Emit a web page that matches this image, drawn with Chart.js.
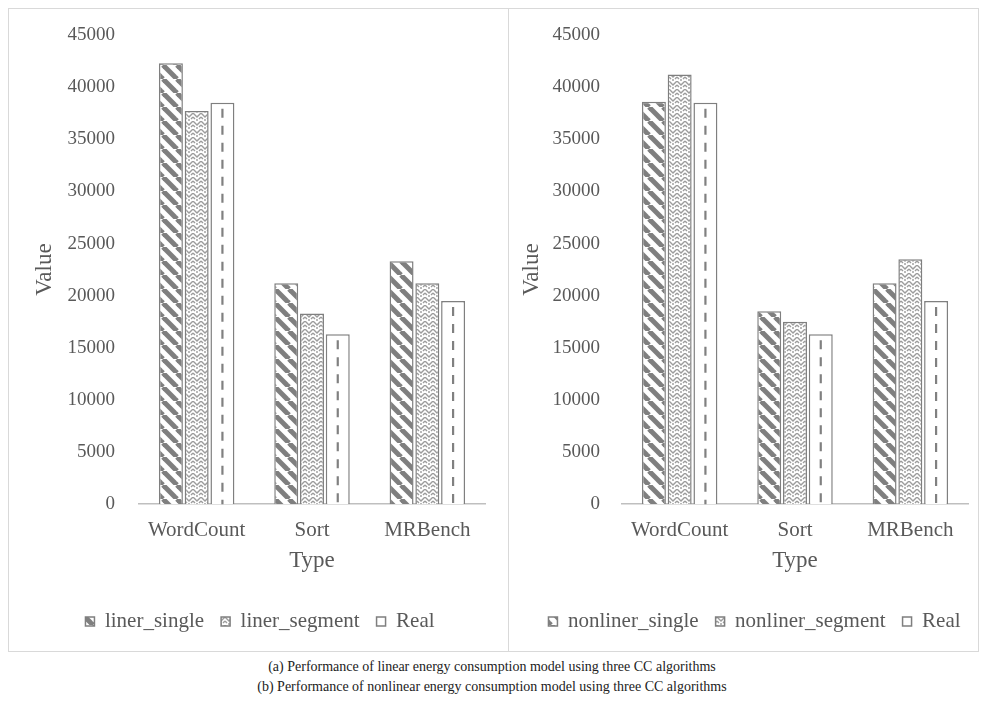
<!DOCTYPE html>
<html>
<head>
<meta charset="utf-8">
<script src="https://cdn.jsdelivr.net/npm/chart.js@4.4.0/dist/chart.umd.min.js"></script>
<style>
  body { margin: 0; background: #fff; width: 984px; height: 706px; position: relative; font-family: "Liberation Serif", serif; }
  .panel { position: absolute; top: 8px; height: 644px; border: 1px solid #d9d9d9; box-sizing: border-box; }
  #p1 { left: 8px; width: 501px; }
  #p2 { left: 508px; width: 471px; }
  .caption { position: absolute; left: 0; width: 984px; text-align: center; font-size: 14px; color: #222; }
</style>
</head>
<body>
<div class="panel" id="p1"><canvas id="chart1"></canvas></div>
<div class="panel" id="p2"><canvas id="chart2"></canvas></div>
<div class="caption" style="top:659px">(a) Performance of linear energy consumption model using three CC algorithms</div>
<div class="caption" style="top:679px">(b) Performance of nonlinear energy consumption model using three CC algorithms</div>
<script>
var categories = ['WordCount', 'Sort', 'MRBench']
var yTicks = [0, 5000, 10000, 15000, 20000, 25000, 30000, 35000, 40000, 45000]

var linerSingle = [42300, 21200, 23300]
var linerSegment = [37700, 18300, 21200]
var linerReal = [38500, 16300, 19500]

var nonlinerSingle = [38600, 18500, 21200]
var nonlinerSegment = [41200, 17500, 23500]
var nonlinerReal = [38500, 16300, 19500]

var textColor = '#595959'
var edgeColor = '#7f7f7f'
Chart.defaults.font.family = '"Liberation Serif", "Times New Roman", serif'

function stripePattern() {
  var c = document.createElement('canvas')
  c.width = 14; c.height = 14
  var g = c.getContext('2d')
  g.fillStyle = '#fff'; g.fillRect(0, 0, 14, 14)
  g.strokeStyle = '#7f7f7f'; g.lineWidth = 5
  for (var k = -14; k <= 14; k += 14) {
    g.beginPath(); g.moveTo(k, 0); g.lineTo(k + 14, 14); g.stroke()
  }
  return g.createPattern(c, 'repeat')
}

function weavePattern() {
  var c = document.createElement('canvas')
  c.width = 8; c.height = 8
  var g = c.getContext('2d')
  g.fillStyle = '#fff'; g.fillRect(0, 0, 8, 8)
  g.strokeStyle = '#9c9c9c'; g.lineWidth = 1.4
  g.beginPath()
  g.moveTo(0, 0); g.lineTo(4, 4); g.lineTo(8, 0)
  g.moveTo(0, 4); g.lineTo(2, 6)
  g.moveTo(8, 4); g.lineTo(6, 6)
  g.moveTo(4, 6); g.lineTo(4, 8)
  g.stroke()
  return g.createPattern(c, 'repeat')
}

// dashed centre line inside the "Real" bars
var dashPlugin = {
  id: 'dashLine',
  afterDatasetsDraw: function (chart) {
    var meta = chart.getDatasetMeta(2)
    var ctx = chart.ctx
    ctx.save()
    ctx.strokeStyle = '#808080'
    ctx.lineWidth = 2.2
    ctx.setLineDash([9, 8])
    meta.data.forEach(function (bar) {
      ctx.beginPath()
      ctx.moveTo(bar.x, bar.y + 6)
      ctx.lineTo(bar.x, bar.base)
      ctx.stroke()
    })
    ctx.restore()
  }
}

// nudge the legend sideways so it sits where the original has it
var legendShift = {
  id: 'legendShift',
  afterLayout: function (chart, args, opts) {
    chart.legend.left += opts.dx
    chart.legend.right += opts.dx
  }
}

function makeChart(id, names, series, w, yWidth, yPad, titlePad, padRight, dx) {
  var canvas = document.getElementById(id)
  canvas.width = w; canvas.height = 642
  canvas.style.width = w + 'px'; canvas.style.height = '642px'
  var fills = [stripePattern(), weavePattern(), '#ffffff']
  var datasets = series.map(function (d, i) {
    return {
      label: names[i],
      data: d,
      backgroundColor: fills[i],
      borderColor: edgeColor,
      borderWidth: 1.5,
      barPercentage: 0.93,
      categoryPercentage: 0.67
    }
  })
  return new Chart(canvas, {
    type: 'bar',
    data: { labels: categories, datasets: datasets },
    options: {
      responsive: false,
      animation: false,
      layout: { padding: { top: 26, right: padRight, bottom: 9, left: 0 } },
      plugins: {
        tooltip: { enabled: false },
        legendShift: { dx: dx },
        legend: {
          position: 'bottom',
          labels: {
            color: textColor,
            font: { size: 21 },
            boxWidth: 9, boxHeight: 9, padding: 17
          }
        }
      },
      scales: {
        x: {
          grid: { display: false, drawTicks: false },
          border: { display: true, color: '#bfbfbf', width: 1.5 },
          ticks: { color: textColor, font: { size: 21 }, padding: 14 },
          title: { display: true, text: 'Type', color: textColor, font: { size: 23 }, padding: { top: -10, bottom: 19 } }
        },
        y: {
          min: 0, max: 45000,
          afterFit: function (s) { s.width = yWidth; s.paddingTop = 0; s.paddingBottom = 0 },
          afterBuildTicks: function (s) { s.ticks = yTicks.map(function (v) { return { value: v } }) },
          grid: { display: false, drawTicks: false },
          border: { display: false },
          ticks: {
            color: textColor, font: { size: 19 }, padding: yPad,
            callback: function (v) { return String(v) }
          },
          title: { display: true, text: 'Value', color: textColor, font: { size: 23 }, padding: { top: titlePad, bottom: 0 } }
        }
      }
    },
    plugins: [dashPlugin, legendShift]
  })
}

makeChart('chart1', ['liner_single', 'liner_segment', 'Real'], [linerSingle, linerSegment, linerReal], 499, 130, 24, 22, 23, 13)
makeChart('chart2', ['nonliner_single', 'nonliner_segment', 'Real'], [nonlinerSingle, nonlinerSegment, nonlinerReal], 469, 113, 22, 9, 10, 16)
</script>
</body>
</html>
